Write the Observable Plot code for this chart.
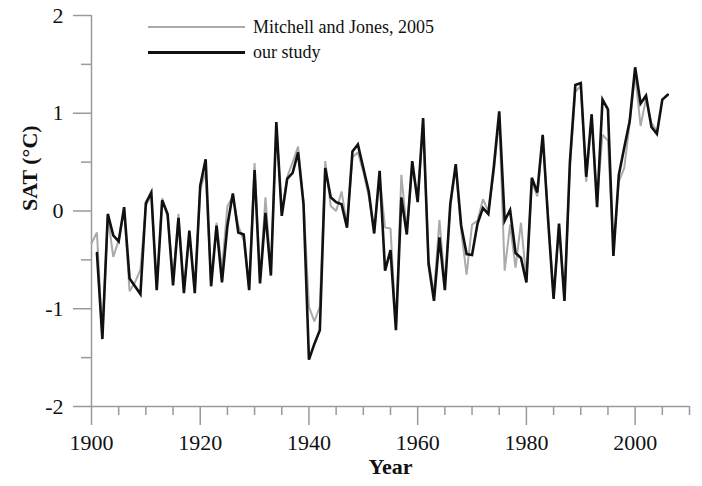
<!DOCTYPE html>
<html>
<head>
<meta charset="utf-8">
<script src="https://cdn.jsdelivr.net/npm/d3@7"></script>
<script src="https://cdn.jsdelivr.net/npm/@observablehq/plot@0.6"></script>
<style>
  html, body { margin: 0; padding: 0; background: #fff; }
  #wrap { position: relative; width: 702px; height: 486px; }
  #legend { position: absolute; left: 0; top: 0; width: 702px; height: 80px; pointer-events: none; }
  .lg { position: absolute; left: 253px; font-family: 'Liberation Serif', 'Times New Roman', serif; font-size: 18px; color: #111; line-height: 1; white-space: nowrap; }
  .ln { position: absolute; left: 148px; width: 97px; }
</style>
</head>
<body>
<div id="wrap">
  <div id="chart"></div>
  <div id="legend">
    <div class="ln" style="top:26px;height:2px;background:#aaaaaa;"></div>
    <div class="lg" style="top:18px;">Mitchell and Jones, 2005</div>
    <div class="ln" style="top:50.5px;height:3px;background:#111;"></div>
    <div class="lg" style="top:43px;">our study</div>
  </div>
</div>
<script>
// Our study (black), 1901-2006
const studyYears = d3.range(1901, 2007);
const studyValues = [
  -0.43, -1.31, -0.03, -0.25, -0.31, 0.04, -0.69, -0.77, -0.85, 0.08,
  0.19, -0.81, 0.11, -0.03, -0.76, -0.07, -0.84, -0.20, -0.84, 0.26,
  0.53, -0.77, -0.15, -0.73, -0.15, 0.18, -0.22, -0.24, -0.81, 0.42,
  -0.74, -0.02, -0.66, 0.91, -0.05, 0.33, 0.39, 0.60, 0.07, -1.52,
  -1.36, -1.22, 0.44, 0.14, 0.09, 0.07, -0.17, 0.61, 0.68, 0.44,
  0.20, -0.23, 0.41, -0.61, -0.40, -1.22, 0.14, -0.24, 0.51, 0.09,
  0.95, -0.54, -0.92, -0.27, -0.81, 0.07, 0.48, -0.15, -0.44, -0.45,
  -0.13, 0.03, -0.03, 0.45, 1.02, -0.10, 0.01, -0.43, -0.48, -0.73,
  0.34, 0.19, 0.78, -0.10, -0.90, -0.13, -0.92, 0.50, 1.29, 1.31,
  0.35, 0.99, 0.04, 1.14, 1.04, -0.46, 0.37, 0.65, 0.92, 1.47,
  1.10, 1.18, 0.86, 0.79, 1.14, 1.19
];
// Mitchell and Jones, 2005 (grey), 1900-2004
const mjYears = d3.range(1900, 2005);
const mjValues = [
  -0.33, -0.22, -1.28, -0.05, -0.47, -0.30, 0.02, -0.82, -0.73, -0.60,
  0.05, 0.17, -0.80, 0.13, -0.06, -0.70, -0.03, -0.80, -0.25, -0.80,
  0.22, 0.40, -0.75, -0.12, -0.60, 0.05, 0.15, -0.15, -0.30, -0.80,
  0.49, -0.70, 0.14, -0.62, 0.88, -0.02, 0.35, 0.50, 0.66, 0.10,
  -0.98, -1.13, -0.98, 0.51, 0.05, 0.00, 0.20, -0.15, 0.55, 0.60,
  0.40, 0.15, -0.20, 0.35, -0.17, -0.18, -1.18, 0.37, -0.20, 0.45,
  0.12, 0.90, -0.50, -0.85, -0.09, -0.75, 0.05, 0.45, -0.20, -0.65,
  -0.14, -0.10, 0.12, 0.00, 0.40, 0.95, -0.61, -0.14, -0.58, -0.12,
  -0.70, 0.30, 0.15, 0.75, -0.05, -0.88, -0.15, -0.90, 0.45, 1.22,
  1.28, 0.30, 0.95, 0.10, 0.78, 0.72, -0.40, 0.30, 0.44, 0.90,
  1.40, 0.87, 1.15, 0.90, 0.82
];
const xMajorTicks = [1900, 1920, 1940, 1960, 1980, 2000];
const xMinorTicks = [1905, 1910, 1915, 1925, 1930, 1935, 1945, 1950, 1955, 1965, 1970, 1975, 1985, 1990, 1995, 2005, 2010];
const yMajorTicks = [-2, -1, 0, 1, 2];
const yMinorTicks = [-1.5, -0.5, 0.5, 1.5];
const xTitle = "Year";
const yTitle = "SAT (°C)";

const study = studyYears.map((x, i) => ({x, y: studyValues[i]}));
const mj = mjYears.map((x, i) => ({x, y: mjValues[i]}));

const axisGrey = "#9a9a9a";

const chart = Plot.plot({
  width: 702,
  height: 486,
  marginLeft: 91,
  marginRight: 13,
  marginTop: 15,
  marginBottom: 80,
  style: {fontFamily: "'Liberation Serif', 'Times New Roman', serif", fontSize: "22px", background: "#fff", color: "#111"},
  x: {domain: [1900, 2010], axis: null},
  y: {domain: [-2, 2], axis: null},
  marks: [
    Plot.ruleY([-2], {stroke: axisGrey, strokeWidth: 1.5}),
    Plot.ruleX([1900], {y1: -2, y2: 2, stroke: axisGrey, strokeWidth: 1.5}),
    Plot.axisY({ticks: yMajorTicks, tickSize: 18, tickPadding: 10, stroke: axisGrey, fill: "#111", strokeWidth: 1.5, label: null, tickFormat: d => String(d)}),
    Plot.axisY({ticks: yMinorTicks, tickSize: 10, stroke: axisGrey, strokeWidth: 1.5, label: null, tickFormat: () => ""}),
    Plot.axisX({ticks: xMajorTicks, tickSize: 19, tickPadding: 9, stroke: axisGrey, fill: "#111", strokeWidth: 1.5, label: null, tickFormat: d => String(d)}),
    Plot.axisX({ticks: xMinorTicks, tickSize: 9, stroke: axisGrey, strokeWidth: 1.5, label: null, tickFormat: () => ""}),
    Plot.lineY(mj, {x: "x", y: "y", stroke: "#aaaaaa", strokeWidth: 2, strokeLinejoin: "miter"}),
    Plot.lineY(study, {x: "x", y: "y", stroke: "#111", strokeWidth: 2.6, strokeLinejoin: "miter", strokeMiterlimit: 4}),
    Plot.text([yTitle], {frameAnchor: "left", dx: -62, rotate: -90, fontWeight: "bold", fontSize: 22, fill: "#111"}),
    Plot.text([xTitle], {frameAnchor: "bottom", dy: 67, fontWeight: "bold", fontSize: 22, fill: "#111"})
  ]
});
document.getElementById("chart").appendChild(chart);
</script>
</body>
</html>
